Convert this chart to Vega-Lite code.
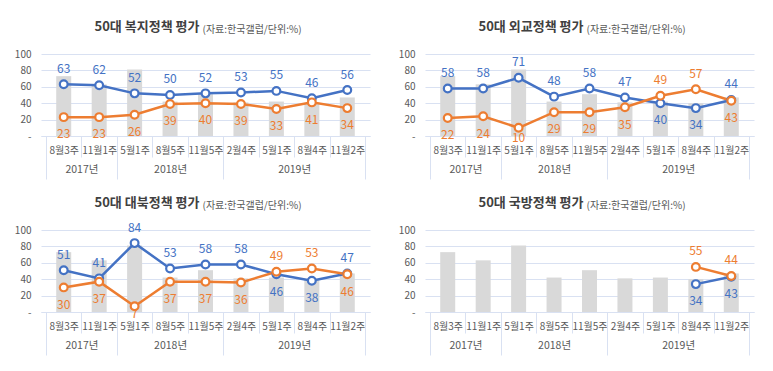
{
  "$schema": "https://vega.github.io/schema/vega-lite/v6.json",
  "background": "white",
  "padding": {"left": 14, "top": 21, "right": 5, "bottom": 5},
  "config": {
    "font": "Noto Sans CJK KR",
    "view": {"stroke": null},
    "title": {"fontSize": 13, "fontWeight": "bold", "color": "#404040"},
    "axis": {"labelFont": "Noto Sans CJK KR", "titleFont": "Noto Sans CJK KR"},
    "axisY": {"ticks": false, "domain": false, "grid": true, "gridColor": "#d9e1f2", "gridWidth": 1, "labelPadding": 10, "labelFontSize": 10, "labelColor": "#595959", "labelOverlap": false, "labelBound": false, "titleAngle": 0, "titleAlign": "left", "titleBaseline": "alphabetic", "titleX": 161, "titleY": -22, "titleFontSize": 10, "titleFontWeight": "normal", "titleColor": "#595959"},
    "axisX": {"orient": "bottom", "grid": false, "title": null, "labelOverlap": false, "labelBound": false}
  },
  "datasets": {
    "d": [
      {"p": "복지", "i": 0, "bar": 73, "pos": 63, "neg": 23},
      {"p": "복지", "i": 1, "bar": 63, "pos": 62, "neg": 23},
      {"p": "복지", "i": 2, "bar": 81, "pos": 52, "neg": 26},
      {"p": "복지", "i": 3, "bar": 42, "pos": 50, "neg": 39},
      {"p": "복지", "i": 4, "bar": 51, "pos": 52, "neg": 40},
      {"p": "복지", "i": 5, "bar": 41, "pos": 53, "neg": 39},
      {"p": "복지", "i": 6, "bar": 42, "pos": 55, "neg": 33},
      {"p": "복지", "i": 7, "bar": 40, "pos": 46, "neg": 41},
      {"p": "복지", "i": 8, "bar": 47, "pos": 56, "neg": 34},
      {"p": "외교", "i": 0, "bar": 73, "pos": 58, "neg": 22},
      {"p": "외교", "i": 1, "bar": 63, "pos": 58, "neg": 24},
      {"p": "외교", "i": 2, "bar": 81, "pos": 71, "neg": 10},
      {"p": "외교", "i": 3, "bar": 42, "pos": 48, "neg": 29},
      {"p": "외교", "i": 4, "bar": 51, "pos": 58, "neg": 29},
      {"p": "외교", "i": 5, "bar": 41, "pos": 47, "neg": 35},
      {"p": "외교", "i": 6, "bar": 42, "pos": 40, "neg": 49},
      {"p": "외교", "i": 7, "bar": 40, "pos": 34, "neg": 57},
      {"p": "외교", "i": 8, "bar": 47, "pos": 44, "neg": 43},
      {"p": "대북", "i": 0, "bar": 73, "pos": 51, "neg": 30},
      {"p": "대북", "i": 1, "bar": 63, "pos": 41, "neg": 37},
      {"p": "대북", "i": 2, "bar": 81, "pos": 84, "neg": 7},
      {"p": "대북", "i": 3, "bar": 42, "pos": 53, "neg": 37},
      {"p": "대북", "i": 4, "bar": 51, "pos": 58, "neg": 37},
      {"p": "대북", "i": 5, "bar": 41, "pos": 58, "neg": 36},
      {"p": "대북", "i": 6, "bar": 42, "pos": 46, "neg": 49},
      {"p": "대북", "i": 7, "bar": 40, "pos": 38, "neg": 53},
      {"p": "대북", "i": 8, "bar": 47, "pos": 47, "neg": 46},
      {"p": "국방", "i": 0, "bar": 73, "pos": null, "neg": null},
      {"p": "국방", "i": 1, "bar": 63, "pos": null, "neg": null},
      {"p": "국방", "i": 2, "bar": 81, "pos": null, "neg": null},
      {"p": "국방", "i": 3, "bar": 42, "pos": null, "neg": null},
      {"p": "국방", "i": 4, "bar": 51, "pos": null, "neg": null},
      {"p": "국방", "i": 5, "bar": 41, "pos": null, "neg": null},
      {"p": "국방", "i": 6, "bar": 42, "pos": null, "neg": null},
      {"p": "국방", "i": 7, "bar": 40, "pos": 34, "neg": 55},
      {"p": "국방", "i": 8, "bar": 47, "pos": 43, "neg": 44}
    ]
  },
  "columns": 2,
  "spacing": {"column": 28, "row": 17},
  "concat": [
    {
      "title": {"text": "50대 복지정책 평가", "anchor": "middle", "align": "right", "frame": "group", "dx": -6, "dy": 14},
      "width": 329, "height": 82,
      "data": {"name": "d"},
      "transform": [
        {"filter": "datum.p === '복지'"},
        {"calculate": "datum.pos > datum.neg ? datum.pos + 19 : max(datum.pos - 21, -2)", "as": "lp"},
        {"calculate": "datum.neg > datum.pos ? datum.neg + 19 : max(datum.neg - 21, -2)", "as": "ln"}
      ],
      "resolve": {"axis": {"x": "independent"}},
      "layer": [
        {"mark": {"type": "bar", "color": "#d9d9d9", "size": 15, "orient": "vertical"},
         "encoding": {
           "x": {"field": "i", "type": "quantitative", "scale": {"domain": [-0.5, 8.5], "nice": false, "zero": false},
             "axis": {"orient": "bottom", "values": [0,1,2,3,4,5,6,7,8], "labelExpr": "['8월3주','11월1주','5월1주','8월5주','11월5주','2월4주','5월1주','8월4주','11월2주'][datum.value]", "ticks": false, "domain": false, "labelPadding": 9, "labelFontSize": 10, "labelColor": "#595959"}},
           "y": {"field": "bar", "type": "quantitative", "scale": {"domain": [0, 100], "nice": false}, "title": "(자료:한국갤럽/단위:%)",
             "axis": {"values": [0,20,40,60,80,100], "labelOverlap": false, "labelExpr": "datum.value === 0 ? '-' : datum.label"}}
         }},
        {"mark": {"type": "line", "color": "#4472c4", "strokeWidth": 2.5},
         "encoding": {
           "x": {"field": "i", "type": "quantitative", "axis": {"orient": "bottom", "values": [-0.5,0.5,1.5,2.5,3.5,4.5,5.5,6.5,7.5,8.5], "labels": false, "tickSize": 21, "tickColor": "#d9e1f2", "domain": true, "domainColor": "#d9e1f2"}},
           "y": {"field": "pos", "type": "quantitative", "title": "(자료:한국갤럽/단위:%)", "axis": {"values": [0,20,40,60,80,100], "labelOverlap": false, "labelExpr": "datum.value === 0 ? '-' : datum.label"}}
         }},
        {"mark": {"type": "line", "color": "#ed7d31", "strokeWidth": 2.5},
         "encoding": {
           "x": {"field": "i", "type": "quantitative", "axis": {"orient": "bottom", "values": [-0.5,1.5,4.5,8.5], "labels": false, "tickSize": 43, "tickColor": "#d9e1f2", "domain": false}},
           "y": {"field": "neg", "type": "quantitative", "title": "(자료:한국갤럽/단위:%)", "axis": {"values": [0,20,40,60,80,100], "labelOverlap": false, "labelExpr": "datum.value === 0 ? '-' : datum.label"}}
         }},
        {"mark": {"type": "point", "shape": "circle", "filled": true, "fill": "white", "stroke": "#4472c4", "strokeWidth": 2.2, "size": 60, "opacity": 1},
         "encoding": {
           "x": {"field": "i", "type": "quantitative", "axis": {"orient": "bottom", "values": [0.5, 3, 6.5], "labelExpr": "datum.value < 1 ? '2017년' : datum.value < 4 ? '2018년' : '2019년'", "ticks": false, "domain": false, "labelPadding": 28, "labelFontSize": 10.5, "labelColor": "#595959"}},
           "y": {"field": "pos", "type": "quantitative", "title": "(자료:한국갤럽/단위:%)", "axis": {"values": [0,20,40,60,80,100], "labelOverlap": false, "labelExpr": "datum.value === 0 ? '-' : datum.label"}}
         }},
        {"mark": {"type": "point", "shape": "circle", "filled": true, "fill": "white", "stroke": "#ed7d31", "strokeWidth": 2.2, "size": 60, "opacity": 1},
         "encoding": {
           "x": {"field": "i", "type": "quantitative", "axis": null},
           "y": {"field": "neg", "type": "quantitative", "title": "(자료:한국갤럽/단위:%)", "axis": {"values": [0,20,40,60,80,100], "labelOverlap": false, "labelExpr": "datum.value === 0 ? '-' : datum.label"}}
         }},
        {"transform": [{"filter": "isValid(datum.pos)"}],
         "mark": {"type": "text", "color": "#4472c4", "fontSize": 12, "baseline": "middle"},
         "encoding": {
           "x": {"field": "i", "type": "quantitative", "axis": null},
           "y": {"field": "lp", "type": "quantitative", "title": "(자료:한국갤럽/단위:%)", "axis": {"values": [0,20,40,60,80,100], "labelOverlap": false, "labelExpr": "datum.value === 0 ? '-' : datum.label"}},
           "text": {"field": "pos", "type": "quantitative"}
         }},
        {"transform": [{"filter": "isValid(datum.neg)"}],
         "mark": {"type": "text", "color": "#ed7d31", "fontSize": 12, "baseline": "middle"},
         "encoding": {
           "x": {"field": "i", "type": "quantitative", "axis": null},
           "y": {"field": "ln", "type": "quantitative", "title": "(자료:한국갤럽/단위:%)", "axis": {"values": [0,20,40,60,80,100], "labelOverlap": false, "labelExpr": "datum.value === 0 ? '-' : datum.label"}},
           "text": {"field": "neg", "type": "quantitative"}
         }}
      ]
    },
    {
      "title": {"text": "50대 외교정책 평가", "anchor": "middle", "align": "right", "frame": "group", "dx": -6, "dy": 14},
      "width": 329, "height": 82,
      "data": {"name": "d"},
      "transform": [
        {"filter": "datum.p === '외교'"},
        {"calculate": "datum.pos > datum.neg ? datum.pos + 19 : max(datum.pos - 21, -2)", "as": "lp"},
        {"calculate": "datum.neg > datum.pos ? datum.neg + 19 : max(datum.neg - 21, -2)", "as": "ln"}
      ],
      "resolve": {"axis": {"x": "independent"}},
      "layer": [
        {"mark": {"type": "bar", "color": "#d9d9d9", "size": 15, "orient": "vertical"},
         "encoding": {
           "x": {"field": "i", "type": "quantitative", "scale": {"domain": [-0.5, 8.5], "nice": false, "zero": false},
             "axis": {"orient": "bottom", "values": [0,1,2,3,4,5,6,7,8], "labelExpr": "['8월3주','11월1주','5월1주','8월5주','11월5주','2월4주','5월1주','8월4주','11월2주'][datum.value]", "ticks": false, "domain": false, "labelPadding": 9, "labelFontSize": 10, "labelColor": "#595959"}},
           "y": {"field": "bar", "type": "quantitative", "scale": {"domain": [0, 100], "nice": false}, "title": "(자료:한국갤럽/단위:%)",
             "axis": {"values": [0,20,40,60,80,100], "labelOverlap": false, "labelExpr": "datum.value === 0 ? '-' : datum.label"}}
         }},
        {"mark": {"type": "line", "color": "#4472c4", "strokeWidth": 2.5},
         "encoding": {
           "x": {"field": "i", "type": "quantitative", "axis": {"orient": "bottom", "values": [-0.5,0.5,1.5,2.5,3.5,4.5,5.5,6.5,7.5,8.5], "labels": false, "tickSize": 21, "tickColor": "#d9e1f2", "domain": true, "domainColor": "#d9e1f2"}},
           "y": {"field": "pos", "type": "quantitative", "title": "(자료:한국갤럽/단위:%)", "axis": {"values": [0,20,40,60,80,100], "labelOverlap": false, "labelExpr": "datum.value === 0 ? '-' : datum.label"}}
         }},
        {"mark": {"type": "line", "color": "#ed7d31", "strokeWidth": 2.5},
         "encoding": {
           "x": {"field": "i", "type": "quantitative", "axis": {"orient": "bottom", "values": [-0.5,1.5,4.5,8.5], "labels": false, "tickSize": 43, "tickColor": "#d9e1f2", "domain": false}},
           "y": {"field": "neg", "type": "quantitative", "title": "(자료:한국갤럽/단위:%)", "axis": {"values": [0,20,40,60,80,100], "labelOverlap": false, "labelExpr": "datum.value === 0 ? '-' : datum.label"}}
         }},
        {"mark": {"type": "point", "shape": "circle", "filled": true, "fill": "white", "stroke": "#4472c4", "strokeWidth": 2.2, "size": 60, "opacity": 1},
         "encoding": {
           "x": {"field": "i", "type": "quantitative", "axis": {"orient": "bottom", "values": [0.5, 3, 6.5], "labelExpr": "datum.value < 1 ? '2017년' : datum.value < 4 ? '2018년' : '2019년'", "ticks": false, "domain": false, "labelPadding": 28, "labelFontSize": 10.5, "labelColor": "#595959"}},
           "y": {"field": "pos", "type": "quantitative", "title": "(자료:한국갤럽/단위:%)", "axis": {"values": [0,20,40,60,80,100], "labelOverlap": false, "labelExpr": "datum.value === 0 ? '-' : datum.label"}}
         }},
        {"mark": {"type": "point", "shape": "circle", "filled": true, "fill": "white", "stroke": "#ed7d31", "strokeWidth": 2.2, "size": 60, "opacity": 1},
         "encoding": {
           "x": {"field": "i", "type": "quantitative", "axis": null},
           "y": {"field": "neg", "type": "quantitative", "title": "(자료:한국갤럽/단위:%)", "axis": {"values": [0,20,40,60,80,100], "labelOverlap": false, "labelExpr": "datum.value === 0 ? '-' : datum.label"}}
         }},
        {"transform": [{"filter": "isValid(datum.pos)"}],
         "mark": {"type": "text", "color": "#4472c4", "fontSize": 12, "baseline": "middle"},
         "encoding": {
           "x": {"field": "i", "type": "quantitative", "axis": null},
           "y": {"field": "lp", "type": "quantitative", "title": "(자료:한국갤럽/단위:%)", "axis": {"values": [0,20,40,60,80,100], "labelOverlap": false, "labelExpr": "datum.value === 0 ? '-' : datum.label"}},
           "text": {"field": "pos", "type": "quantitative"}
         }},
        {"transform": [{"filter": "isValid(datum.neg)"}],
         "mark": {"type": "text", "color": "#ed7d31", "fontSize": 12, "baseline": "middle"},
         "encoding": {
           "x": {"field": "i", "type": "quantitative", "axis": null},
           "y": {"field": "ln", "type": "quantitative", "title": "(자료:한국갤럽/단위:%)", "axis": {"values": [0,20,40,60,80,100], "labelOverlap": false, "labelExpr": "datum.value === 0 ? '-' : datum.label"}},
           "text": {"field": "neg", "type": "quantitative"}
         }}
      ]
    },
    {
      "title": {"text": "50대 대북정책 평가", "anchor": "middle", "align": "right", "frame": "group", "dx": -6, "dy": 14},
      "width": 329, "height": 82,
      "data": {"name": "d"},
      "transform": [
        {"filter": "datum.p === '대북'"},
        {"calculate": "datum.pos > datum.neg ? datum.pos + 19 : max(datum.pos - 21, -2)", "as": "lp"},
        {"calculate": "datum.neg > datum.pos ? datum.neg + 19 : max(datum.neg - 21, -2)", "as": "ln"}
      ],
      "resolve": {"axis": {"x": "independent"}},
      "layer": [
        {"mark": {"type": "bar", "color": "#d9d9d9", "size": 15, "orient": "vertical"},
         "encoding": {
           "x": {"field": "i", "type": "quantitative", "scale": {"domain": [-0.5, 8.5], "nice": false, "zero": false},
             "axis": {"orient": "bottom", "values": [0,1,2,3,4,5,6,7,8], "labelExpr": "['8월3주','11월1주','5월1주','8월5주','11월5주','2월4주','5월1주','8월4주','11월2주'][datum.value]", "ticks": false, "domain": false, "labelPadding": 9, "labelFontSize": 10, "labelColor": "#595959"}},
           "y": {"field": "bar", "type": "quantitative", "scale": {"domain": [0, 100], "nice": false}, "title": "(자료:한국갤럽/단위:%)",
             "axis": {"values": [0,20,40,60,80,100], "labelOverlap": false, "labelExpr": "datum.value === 0 ? '-' : datum.label"}}
         }},
        {"mark": {"type": "line", "color": "#4472c4", "strokeWidth": 2.5},
         "encoding": {
           "x": {"field": "i", "type": "quantitative", "axis": {"orient": "bottom", "values": [-0.5,0.5,1.5,2.5,3.5,4.5,5.5,6.5,7.5,8.5], "labels": false, "tickSize": 21, "tickColor": "#d9e1f2", "domain": true, "domainColor": "#d9e1f2"}},
           "y": {"field": "pos", "type": "quantitative", "title": "(자료:한국갤럽/단위:%)", "axis": {"values": [0,20,40,60,80,100], "labelOverlap": false, "labelExpr": "datum.value === 0 ? '-' : datum.label"}}
         }},
        {"mark": {"type": "line", "color": "#ed7d31", "strokeWidth": 2.5},
         "encoding": {
           "x": {"field": "i", "type": "quantitative", "axis": {"orient": "bottom", "values": [-0.5,1.5,4.5,8.5], "labels": false, "tickSize": 43, "tickColor": "#d9e1f2", "domain": false}},
           "y": {"field": "neg", "type": "quantitative", "title": "(자료:한국갤럽/단위:%)", "axis": {"values": [0,20,40,60,80,100], "labelOverlap": false, "labelExpr": "datum.value === 0 ? '-' : datum.label"}}
         }},
        {"mark": {"type": "point", "shape": "circle", "filled": true, "fill": "white", "stroke": "#4472c4", "strokeWidth": 2.2, "size": 60, "opacity": 1},
         "encoding": {
           "x": {"field": "i", "type": "quantitative", "axis": {"orient": "bottom", "values": [0.5, 3, 6.5], "labelExpr": "datum.value < 1 ? '2017년' : datum.value < 4 ? '2018년' : '2019년'", "ticks": false, "domain": false, "labelPadding": 28, "labelFontSize": 10.5, "labelColor": "#595959"}},
           "y": {"field": "pos", "type": "quantitative", "title": "(자료:한국갤럽/단위:%)", "axis": {"values": [0,20,40,60,80,100], "labelOverlap": false, "labelExpr": "datum.value === 0 ? '-' : datum.label"}}
         }},
        {"mark": {"type": "point", "shape": "circle", "filled": true, "fill": "white", "stroke": "#ed7d31", "strokeWidth": 2.2, "size": 60, "opacity": 1},
         "encoding": {
           "x": {"field": "i", "type": "quantitative", "axis": null},
           "y": {"field": "neg", "type": "quantitative", "title": "(자료:한국갤럽/단위:%)", "axis": {"values": [0,20,40,60,80,100], "labelOverlap": false, "labelExpr": "datum.value === 0 ? '-' : datum.label"}}
         }},
        {"transform": [{"filter": "isValid(datum.pos)"}],
         "mark": {"type": "text", "color": "#4472c4", "fontSize": 12, "baseline": "middle"},
         "encoding": {
           "x": {"field": "i", "type": "quantitative", "axis": null},
           "y": {"field": "lp", "type": "quantitative", "title": "(자료:한국갤럽/단위:%)", "axis": {"values": [0,20,40,60,80,100], "labelOverlap": false, "labelExpr": "datum.value === 0 ? '-' : datum.label"}},
           "text": {"field": "pos", "type": "quantitative"}
         }},
        {"transform": [{"filter": "isValid(datum.neg)"}],
         "mark": {"type": "text", "color": "#ed7d31", "fontSize": 12, "baseline": "middle"},
         "encoding": {
           "x": {"field": "i", "type": "quantitative", "axis": null},
           "y": {"field": "ln", "type": "quantitative", "title": "(자료:한국갤럽/단위:%)", "axis": {"values": [0,20,40,60,80,100], "labelOverlap": false, "labelExpr": "datum.value === 0 ? '-' : datum.label"}},
           "text": {"field": "neg", "type": "quantitative"}
         }}
      ]
    },
    {
      "title": {"text": "50대 국방정책 평가", "anchor": "middle", "align": "right", "frame": "group", "dx": -6, "dy": 14},
      "width": 329, "height": 82,
      "data": {"name": "d"},
      "transform": [
        {"filter": "datum.p === '국방'"},
        {"calculate": "datum.pos > datum.neg ? datum.pos + 19 : max(datum.pos - 21, -2)", "as": "lp"},
        {"calculate": "datum.neg > datum.pos ? datum.neg + 19 : max(datum.neg - 21, -2)", "as": "ln"}
      ],
      "resolve": {"axis": {"x": "independent"}},
      "layer": [
        {"mark": {"type": "bar", "color": "#d9d9d9", "size": 15, "orient": "vertical"},
         "encoding": {
           "x": {"field": "i", "type": "quantitative", "scale": {"domain": [-0.5, 8.5], "nice": false, "zero": false},
             "axis": {"orient": "bottom", "values": [0,1,2,3,4,5,6,7,8], "labelExpr": "['8월3주','11월1주','5월1주','8월5주','11월5주','2월4주','5월1주','8월4주','11월2주'][datum.value]", "ticks": false, "domain": false, "labelPadding": 9, "labelFontSize": 10, "labelColor": "#595959"}},
           "y": {"field": "bar", "type": "quantitative", "scale": {"domain": [0, 100], "nice": false}, "title": "(자료:한국갤럽/단위:%)",
             "axis": {"values": [0,20,40,60,80,100], "labelOverlap": false, "labelExpr": "datum.value === 0 ? '-' : datum.label"}}
         }},
        {"mark": {"type": "line", "color": "#4472c4", "strokeWidth": 2.5},
         "encoding": {
           "x": {"field": "i", "type": "quantitative", "axis": {"orient": "bottom", "values": [-0.5,0.5,1.5,2.5,3.5,4.5,5.5,6.5,7.5,8.5], "labels": false, "tickSize": 21, "tickColor": "#d9e1f2", "domain": true, "domainColor": "#d9e1f2"}},
           "y": {"field": "pos", "type": "quantitative", "title": "(자료:한국갤럽/단위:%)", "axis": {"values": [0,20,40,60,80,100], "labelOverlap": false, "labelExpr": "datum.value === 0 ? '-' : datum.label"}}
         }},
        {"mark": {"type": "line", "color": "#ed7d31", "strokeWidth": 2.5},
         "encoding": {
           "x": {"field": "i", "type": "quantitative", "axis": {"orient": "bottom", "values": [-0.5,1.5,4.5,8.5], "labels": false, "tickSize": 43, "tickColor": "#d9e1f2", "domain": false}},
           "y": {"field": "neg", "type": "quantitative", "title": "(자료:한국갤럽/단위:%)", "axis": {"values": [0,20,40,60,80,100], "labelOverlap": false, "labelExpr": "datum.value === 0 ? '-' : datum.label"}}
         }},
        {"mark": {"type": "point", "shape": "circle", "filled": true, "fill": "white", "stroke": "#4472c4", "strokeWidth": 2.2, "size": 60, "opacity": 1},
         "encoding": {
           "x": {"field": "i", "type": "quantitative", "axis": {"orient": "bottom", "values": [0.5, 3, 6.5], "labelExpr": "datum.value < 1 ? '2017년' : datum.value < 4 ? '2018년' : '2019년'", "ticks": false, "domain": false, "labelPadding": 28, "labelFontSize": 10.5, "labelColor": "#595959"}},
           "y": {"field": "pos", "type": "quantitative", "title": "(자료:한국갤럽/단위:%)", "axis": {"values": [0,20,40,60,80,100], "labelOverlap": false, "labelExpr": "datum.value === 0 ? '-' : datum.label"}}
         }},
        {"mark": {"type": "point", "shape": "circle", "filled": true, "fill": "white", "stroke": "#ed7d31", "strokeWidth": 2.2, "size": 60, "opacity": 1},
         "encoding": {
           "x": {"field": "i", "type": "quantitative", "axis": null},
           "y": {"field": "neg", "type": "quantitative", "title": "(자료:한국갤럽/단위:%)", "axis": {"values": [0,20,40,60,80,100], "labelOverlap": false, "labelExpr": "datum.value === 0 ? '-' : datum.label"}}
         }},
        {"transform": [{"filter": "isValid(datum.pos)"}],
         "mark": {"type": "text", "color": "#4472c4", "fontSize": 12, "baseline": "middle"},
         "encoding": {
           "x": {"field": "i", "type": "quantitative", "axis": null},
           "y": {"field": "lp", "type": "quantitative", "title": "(자료:한국갤럽/단위:%)", "axis": {"values": [0,20,40,60,80,100], "labelOverlap": false, "labelExpr": "datum.value === 0 ? '-' : datum.label"}},
           "text": {"field": "pos", "type": "quantitative"}
         }},
        {"transform": [{"filter": "isValid(datum.neg)"}],
         "mark": {"type": "text", "color": "#ed7d31", "fontSize": 12, "baseline": "middle"},
         "encoding": {
           "x": {"field": "i", "type": "quantitative", "axis": null},
           "y": {"field": "ln", "type": "quantitative", "title": "(자료:한국갤럽/단위:%)", "axis": {"values": [0,20,40,60,80,100], "labelOverlap": false, "labelExpr": "datum.value === 0 ? '-' : datum.label"}},
           "text": {"field": "neg", "type": "quantitative"}
         }}
      ]
    }
  ]
}
